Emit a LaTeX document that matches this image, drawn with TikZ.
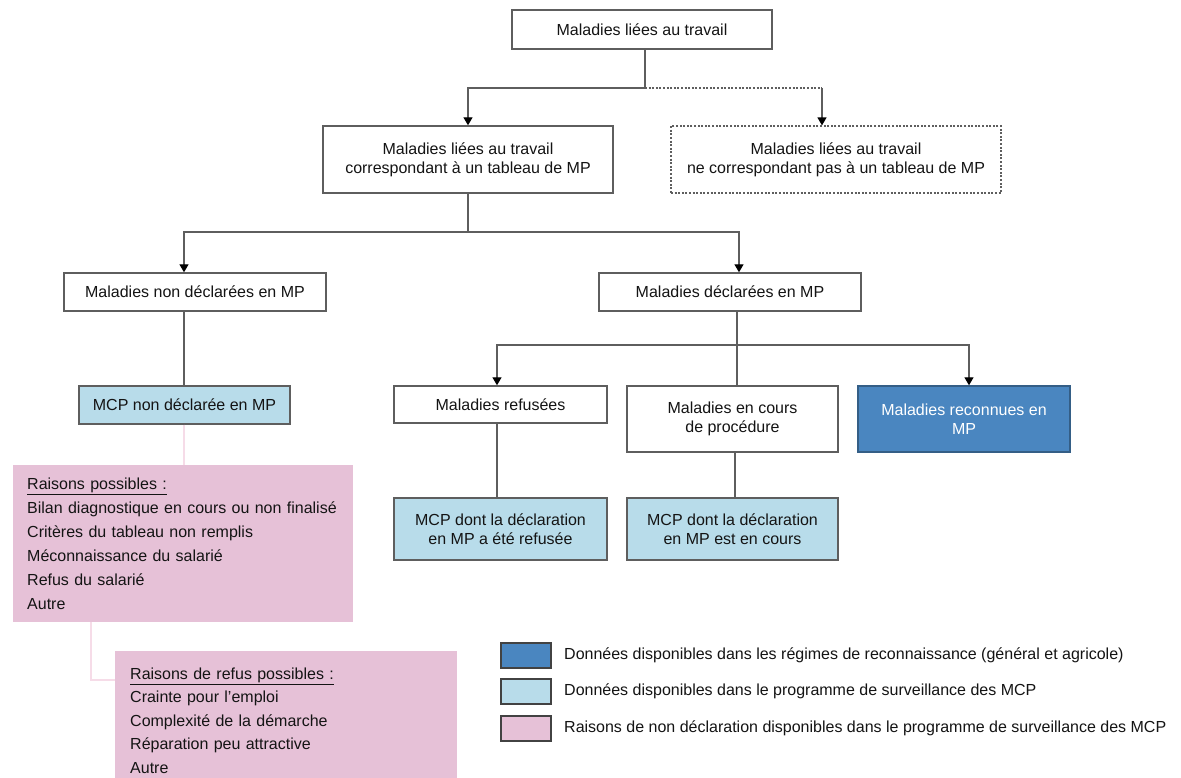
\documentclass[tikz,border=0pt]{standalone}
\usepackage{fontspec}
\setmainfont{Liberation Sans}
\usetikzlibrary{arrows.meta}
\definecolor{lblue}{HTML}{B8DCEA}
\definecolor{dblue}{HTML}{4A86C0}
\definecolor{pinkf}{HTML}{E6C1D7}
\definecolor{pinkl}{HTML}{F6DCE8}
\definecolor{edge}{HTML}{5E5E5E}
\definecolor{txt}{HTML}{141414}
\begin{document}
\begin{tikzpicture}[x=1pt,y=-1pt,
  every node/.style={font=\fontsize{16}{19}\selectfont, text=txt},
  box/.style={draw=edge, line width=1.4pt, fill=white, inner sep=0pt, align=center, anchor=center},
  lbbox/.style={box, fill=lblue},
  dbbox/.style={box, fill=dblue, draw=dblue!70!black, text=white},
  dotbox/.style={box, dash pattern=on 2pt off 1.6pt, line width=1.2pt},
  pinkbox/.style={fill=pinkf, draw=none, inner ysep=0pt, anchor=north west, align=left},
  legbox/.style={draw=edge!70!black, line width=2pt, minimum width=50pt, minimum height=25pt, inner sep=0pt},
  conn/.style={draw=edge, line width=1.3pt},
  arr/.style={conn, -{Triangle[width=9pt,length=8pt,fill=black,color=black]}},
  dotconn/.style={draw=edge, line width=1.3pt, dash pattern=on 2pt off 1.6pt},
  pinkconn/.style={draw=pinkl, line width=1.3pt},
]
\clip (0,0) rectangle (1181,778);
\fill[white] (0,0) rectangle (1181,778);

% nodes
\node[box, minimum width=260pt, minimum height=39pt] (top) at (642,29.5) {Maladies liées au travail};
\node[box, minimum width=290pt, minimum height=67pt] (corr) at (468,159.5) {Maladies liées au travail\\correspondant à un tableau de MP};
\node[dotbox, minimum width=330pt, minimum height=67pt] (nocorr) at (836,159.5) {Maladies liées au travail\\ne correspondant pas à un tableau de MP};
\node[box, minimum width=262pt, minimum height=38pt] (nondecl) at (195,292) {Maladies non déclarées en MP};
\node[box, minimum width=262pt, minimum height=38pt] (decl) at (730,292) {Maladies déclarées en MP};
\node[lbbox, minimum width=211pt, minimum height=38pt] (mcpnd) at (184.5,405) {MCP non déclarée en MP};
\node[box, minimum width=213pt, minimum height=37pt] (refus) at (500.5,404.5) {Maladies refusées};
\node[box, minimum width=211pt, minimum height=66pt] (encours) at (732.5,419) {Maladies en cours\\de procédure};
\node[dbbox, minimum width=212pt, minimum height=66pt] (reconn) at (964,419) {Maladies reconnues en\\MP};
\node[lbbox, minimum width=213pt, minimum height=62pt] (mcpref) at (500.5,529) {MCP dont la déclaration\\en MP a été refusée};
\node[lbbox, minimum width=211pt, minimum height=62pt] (mcpenc) at (732.5,529) {MCP dont la déclaration\\en MP est en cours};

\node[pinkbox, font=\fontsize{16}{24}\selectfont, inner xsep=14pt, text width=312pt, minimum height=157pt] (pink1) at (13,465)
  {\underline{Raisons possibles :}\\
   Bilan diagnostique en cours ou non finalisé\\
   Critères du tableau non remplis\\
   Méconnaissance du salarié\\
   Refus du salarié\\
   Autre};
\node[pinkbox, font=\fontsize{16}{23.5}\selectfont, inner xsep=15pt, text width=312pt, minimum height=139pt] (pink2) at (115,651)
  {\underline{Raisons de refus possibles :}\\
   Crainte pour l'emploi\\
   Complexité de la démarche\\
   Réparation peu attractive\\
   Autre};

% junction coordinates
\coordinate (j1) at (645,88);
\coordinate (j2) at (822,88);
\coordinate (j3) at (468,232);
\coordinate (j3l) at (184,232);
\coordinate (j3r) at (739,232);
\coordinate (j4) at (737,345);
\coordinate (j4l) at (497,345);
\coordinate (j4r) at (969,345);
\coordinate (j5) at (735,0);
\coordinate (pk) at (91,680);

% connectors
\draw[conn] (top.south -| j1) -- (j1);
\draw[arr] (j1) -| (corr.north);
\draw[dotconn] (j1) -- (j2);
\draw[arr] (j2) -- (j2 |- nocorr.north);
\draw[conn] (corr.south) -- (j3);
\draw[arr] (j3) -- (j3l) -- (j3l |- nondecl.north);
\draw[arr] (j3) -- (j3r) -- (j3r |- decl.north);
\draw[conn] (nondecl.south -| j3l) -- (mcpnd.north -| j3l);
\draw[conn] (decl.south -| j4) -- (encours.north -| j4);
\draw[arr] (j4) -- (j4l) -- (j4l |- refus.north);
\draw[arr] (j4) -- (j4r) -- (j4r |- reconn.north);
\draw[conn] (refus.south -| j4l) -- (mcpref.north -| j4l);
\draw[conn] (encours.south -| j5) -- (mcpenc.north -| j5);
\draw[pinkconn] (mcpnd.south -| j3l) -- (pink1.north -| j3l);
\draw[pinkconn] (pink1.south -| pk) -- (pk) -- (pk -| pink2.west);

% legend
\node[legbox, fill=dblue] (l1) at (526,655) {};
\node[legbox, fill=lblue] (l2) at (526,691.5) {};
\node[legbox, fill=pinkf] (l3) at (526,728.5) {};
\node[anchor=west, inner sep=0pt] (t1) at ([xshift=12pt]l1.east) {Données disponibles dans les régimes de reconnaissance (général et agricole)};
\node[anchor=west, inner sep=0pt] (t2) at ([xshift=12pt]l2.east) {Données disponibles dans le programme de surveillance des MCP};
\node[anchor=west, inner sep=0pt] (t3) at ([xshift=12pt]l3.east) {Raisons de non déclaration disponibles dans le programme de surveillance des MCP};
\end{tikzpicture}
\end{document}
